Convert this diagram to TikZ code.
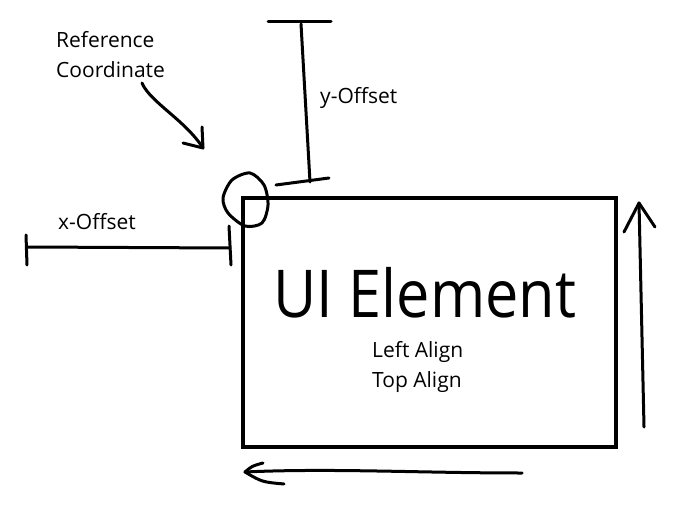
\documentclass[tikz,border=0pt]{standalone}
\usepackage{fontspec}
\setmainfont{Open Sans}
\tikzset{
  pen/.style={draw,line width=3pt,line cap=round,line join=round},
  frame/.style={draw,line width=4pt,inner sep=0pt},
  note/.style={inner sep=0pt,font=\fontsize{21}{30}\selectfont},
  title/.style={inner sep=0pt,font=\fontsize{66}{72}\selectfont}
}
% hand drawn arrow head: tip, then the two barb ends
\newcommand{\barb}[3]{%
  \draw[pen] (#2) -- (#1) -- (#3);
}

\begin{document}
\begin{tikzpicture}[x=1pt,y=-1pt]
  \useasboundingbox (0,0) rectangle (687,518);
  % element
  \node[frame,minimum width=373pt,minimum height=249pt] (elem) at (429.5,322.5) {};
  \node[title,anchor=base] (name) at (425,317) {\scalebox{0.9}[1]{UI Element}};
  \node[note,anchor=base west] (lalign) at (372,357) {Left Align};
  \node[note,anchor=base west] (talign) at (372,387) {Top Align};
  % reference point
  \node[note,anchor=base west] (ref) at (56,48) {Reference};
  \node[note,anchor=base west] (coord) at (56,78) {Coordinate};
  \draw[pen] plot[smooth cycle] coordinates {(250,173)(264,185)(268,205)(262,223)(245,226)(228,213)(223,198)(232,180)};
  \coordinate (refTail) at (142,83);
  \coordinate (refTip) at (203,148);
  \draw[pen] (refTail) .. controls (150,102) and (185,120) .. (refTip);
  \barb{refTip}{202,127}{183,143}
  % x offset
  \node[note,anchor=base west] (xoff) at (58,230) {x-Offset};
  \coordinate (xA) at (27,247);
  \coordinate (xB) at (230,248);
  \draw[pen] (xA) -- (xB);
  \draw[pen] (26,235) -- (27,265);
  \draw[pen] (229,226) -- (231,265);
  % y offset
  \node[note,anchor=base west] (yoff) at (320,104) {y-Offset};
  \coordinate (yA) at (301,24);
  \coordinate (yB) at (310,182);
  \draw[pen] (yA) -- (yB);
  \draw[pen] (268,22) -- (331,22);
  \draw[pen] (276,185) -- (329,178);
  % directions
  \coordinate (upTail) at (644,427);
  \coordinate (upTip) at (639,203);
  \draw[pen] (upTail) -- (upTip);
  \barb{upTip}{624,232}{655,227}
  \coordinate (leftTail) at (522,473);
  \coordinate (leftTip) at (245,472);
  \draw[pen] (leftTail) .. controls (420,473) and (330,468) .. (leftTip);
  \draw[pen] (263,463) .. controls (252,466) .. (leftTip) .. controls (262,482) .. (284,484);
\end{tikzpicture}
\end{document}
